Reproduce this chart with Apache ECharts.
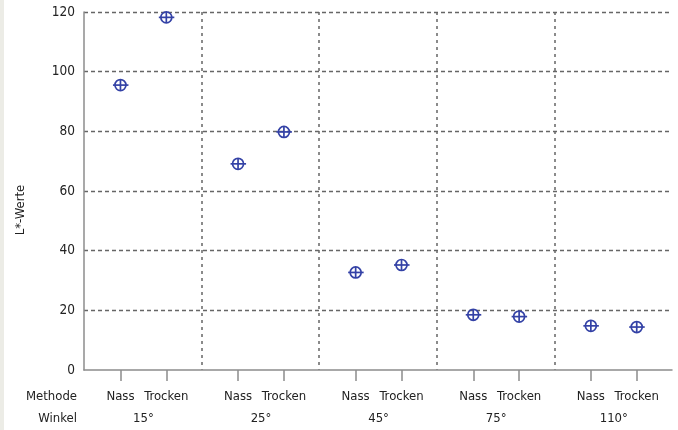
<!DOCTYPE html>
<html>
<head>
<meta charset="utf-8">
<script src="https://cdn.jsdelivr.net/npm/echarts@6/dist/echarts.min.js"></script>
<style>
html,body{margin:0;padding:0;background:#fff;}
#chart{width:678px;height:430px;}
</style>
</head>
<body>
<div id="chart"></div>
<script>
// ---- data ----
const winkel = ['15°', '25°', '45°', '75°', '110°'];
const methoden = ['Nass', 'Trocken'];
const nassWerte = [95.5, 69.1, 32.7, 18.5, 14.8];
const trockenWerte = [118.2, 79.8, 35.2, 17.9, 14.4];
const yTicks = [0, 20, 40, 60, 80, 100, 120];

// ---- layout constants ----
const FONT = "'Liberation Sans Narrow', 'DejaVu Sans Condensed', 'Arial Narrow', sans-serif";
const TEXT = '#222222';
const BLUE = '#3442a6';
const methodOffset = [0.31, 0.70];   // position of each method inside a group
const groupCenter = 0.505;

// build points
const points = [];
const tickPos = [];
const tickName = [];
const groupPos = [];
winkel.forEach((w, g) => {
  [nassWerte, trockenWerte].forEach((arr, m) => {
    const x = g + methodOffset[m];
    points.push([x, arr[g]]);
    tickPos.push(x);
    tickName.push(methoden[m]);
  });
  groupPos.push(g + groupCenter);
});
function nearestName(v, pos, names) {
  let best = 0, d = Infinity;
  pos.forEach((p, i) => { if (Math.abs(p - v) < d) { d = Math.abs(p - v); best = i; } });
  return names[best];
}

const chart = echarts.init(document.getElementById('chart'), null, {renderer: 'canvas'});
chart.setOption({
  animation: false,
  backgroundColor: '#ffffff',
  grid: {left: 84, right: 6, top: 12, bottom: 60, containLabel: false},
  xAxis: [
    {
      type: 'value', min: 0, max: winkel.length, interval: 1,
      axisLine: {show: true, onZero: false, lineStyle: {color: '#8c8c8c', width: 1.5}},
      axisTick: {show: true, customValues: tickPos, length: 11, lineStyle: {color: '#8c8c8c', width: 1.5}},
      axisLabel: {
        show: true, customValues: tickPos, margin: 20,
        color: TEXT, fontFamily: FONT, fontSize: 13,
        formatter: v => nearestName(v, tickPos, tickName)
      },
      splitLine: {show: false}
    },
    {
      type: 'value', min: 0, max: winkel.length, position: 'bottom',
      axisLine: {show: false},
      axisTick: {show: false},
      axisLabel: {
        show: true, customValues: groupPos, margin: 42,
        color: TEXT, fontFamily: FONT, fontSize: 13,
        formatter: v => nearestName(v, groupPos, winkel)
      },
      splitLine: {show: false}
    },
    {
      type: 'value', min: 0, max: winkel.length, interval: 1, position: 'bottom',
      axisLine: {show: false},
      axisTick: {show: false},
      axisLabel: {show: false},
      splitLine: {show: true, showMinLine: false, showMaxLine: false,
        lineStyle: {color: '#666666', type: [3, 4], width: 1.5}}
    }
  ],
  yAxis: {
    type: 'value', min: yTicks[0], max: yTicks[yTicks.length - 1], interval: 20,
    axisLine: {show: true, lineStyle: {color: '#8c8c8c', width: 1.5}},
    axisTick: {show: false},
    axisLabel: {color: TEXT, fontFamily: FONT, fontSize: 13.5, margin: 9},
    splitLine: {show: true, showMinLine: false,
      lineStyle: {color: '#666666', type: [4, 3], width: 1.3}}
  },
  series: [{
    type: 'custom',
    xAxisIndex: 0,
    data: points,
    z: 10,
    renderItem: (params, api) => {
      const p = api.coord([api.value(0), api.value(1)]);
      const st = {stroke: BLUE, lineWidth: 1.7, fill: null};
      return {
        type: 'group',
        children: [
          {type: 'circle', shape: {cx: p[0], cy: p[1], r: 5.5}, style: {stroke: BLUE, lineWidth: 1.7, fill: 'rgba(0,0,0,0)'}},
          {type: 'line', shape: {x1: p[0] - 7.5, y1: p[1], x2: p[0] + 8, y2: p[1]}, style: st},
          {type: 'line', shape: {x1: p[0], y1: p[1] - 5.5, x2: p[0], y2: p[1] + 5.5}, style: st}
        ]
      };
    }
  }],
  graphic: [
    {type: 'rect', left: 0, top: 0, shape: {width: 4, height: 430}, style: {fill: '#ecece6'}, z: -1},
    {type: 'text', x: 21, y: 210, rotation: Math.PI / 2,
      style: {text: 'L*-Werte', fill: TEXT, font: '13px ' + FONT, textAlign: 'center', textVerticalAlign: 'middle'}},
    {type: 'text', x: 77, y: 397,
      style: {text: 'Methode', fill: TEXT, font: '13px ' + FONT, textAlign: 'right', textVerticalAlign: 'middle'}},
    {type: 'text', x: 77, y: 419,
      style: {text: 'Winkel', fill: TEXT, font: '13px ' + FONT, textAlign: 'right', textVerticalAlign: 'middle'}}
  ]
});
</script>
</body>
</html>
